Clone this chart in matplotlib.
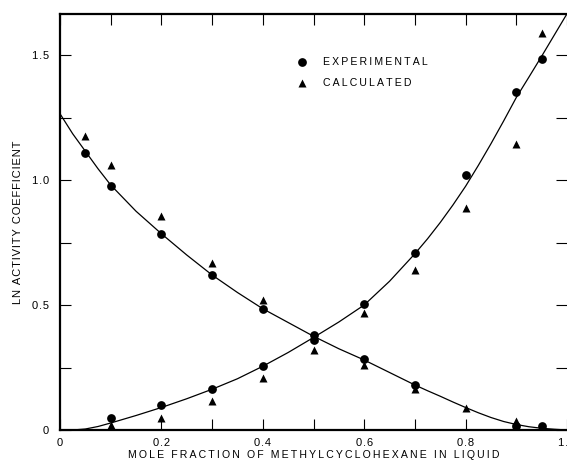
import numpy as np
import matplotlib
matplotlib.use("Agg")
import matplotlib.pyplot as plt
from matplotlib.ticker import MultipleLocator, FixedLocator

# component falling with x (experimental / calculated)
exp_down_x = [0.05, 0.1, 0.2, 0.3, 0.4, 0.5, 0.6, 0.7, 0.9, 0.95]
exp_down_y = [1.11, 0.975, 0.785, 0.62, 0.485, 0.38, 0.285, 0.18, 0.016, 0.016]
calc_down_x = [0.05, 0.1, 0.2, 0.3, 0.4, 0.5, 0.6, 0.7, 0.8, 0.9]
calc_down_y = [1.175, 1.06, 0.855, 0.67, 0.52, 0.37, 0.26, 0.165, 0.088, 0.036]

# methylcyclohexane (rising with x)
exp_up_x = [0.1, 0.2, 0.3, 0.4, 0.5, 0.6, 0.7, 0.8, 0.9, 0.95]
exp_up_y = [0.048, 0.10, 0.163, 0.256, 0.36, 0.504, 0.708, 1.02, 1.352, 1.484]
calc_up_x = [0.1, 0.2, 0.3, 0.4, 0.5, 0.6, 0.7, 0.8, 0.9, 0.95]
calc_up_y = [0.02, 0.048, 0.116, 0.208, 0.32, 0.468, 0.64, 0.888, 1.144, 1.588]

# smoothed curves
curve_x = [0.0, 0.025, 0.05, 0.075, 0.1, 0.15, 0.2, 0.25, 0.3, 0.35, 0.4, 0.45, 0.5,
           0.55, 0.6, 0.65, 0.7, 0.725, 0.75, 0.775, 0.8, 0.825, 0.85, 0.875, 0.9,
           0.925, 0.95, 0.975, 1.0]
curve_down = [1.265, 1.185, 1.115, 1.045, 0.98, 0.875, 0.785, 0.70, 0.62, 0.55, 0.485,
              0.43, 0.375, 0.325, 0.28, 0.23, 0.18, 0.157, 0.135, 0.112, 0.09, 0.069,
              0.05, 0.034, 0.022, 0.013, 0.007, 0.003, 0.0]
curve_up = [0.0, 0.0, 0.004, 0.014, 0.028, 0.058, 0.09, 0.125, 0.163, 0.205, 0.255,
            0.31, 0.37, 0.432, 0.50, 0.595, 0.705, 0.765, 0.83, 0.9, 0.975, 1.058,
            1.145, 1.236, 1.33, 1.412, 1.495, 1.58, 1.665]

x_labels = ["0", "0.2", "0.4", "0.6", "0.8", "1.0"]
y_labels = ["0", "0.5", "1.0", "1.5"]

FONT = ["Liberation Sans", "DejaVu Sans"]


def spaced(s, sep="\u200a"):
    return sep.join(s)


plt.rcParams["font.family"] = FONT

fig = plt.figure(figsize=(5.67, 4.62), dpi=100)
ax = fig.add_axes([60 / 567, 32 / 462, 507 / 567, 416 / 462])

ax.plot(curve_x, curve_down, color="black", lw=0.9)
ax.plot(curve_x, curve_up, color="black", lw=0.9)

ms = 6.3
ax.plot(exp_down_x, exp_down_y, "o", color="black", ms=ms, mec="none")
ax.plot(exp_up_x, exp_up_y, "o", color="black", ms=ms, mec="none")
ax.plot(calc_down_x, calc_down_y, "^", color="black", ms=ms, mec="none")
ax.plot(calc_up_x, calc_up_y, "^", color="black", ms=ms, mec="none")

ax.set_xlim(0, 1.0)
ax.set_ylim(0, 1.664)

for s in ["left", "top", "bottom"]:
    ax.spines[s].set_linewidth(1.6)
ax.spines["right"].set_visible(False)

ax.xaxis.set_major_locator(FixedLocator([0, 0.2, 0.4, 0.6, 0.8, 1.0]))
ax.xaxis.set_minor_locator(MultipleLocator(0.1))
ax.yaxis.set_major_locator(FixedLocator([0, 0.5, 1.0, 1.5]))
ax.yaxis.set_minor_locator(MultipleLocator(0.25))
ax.set_xticklabels([spaced(t) for t in x_labels], fontsize=8)
ax.set_yticklabels([spaced(t) for t in y_labels], fontsize=8)
ax.tick_params(which="both", direction="in", top=True, right=True, width=0.8)
ax.tick_params(axis="x", which="both", length=8, pad=6)
ax.tick_params(axis="y", which="both", length=8, pad=8)

ax.set_xlabel(spaced("MOLE FRACTION OF METHYLCYCLOHEXANE IN LIQUID", "\u2009"),
              fontsize=7.6, labelpad=1)
ax.set_ylabel(spaced("LN ACTIVITY COEFFICIENT"), fontsize=8, labelpad=6)

# legend drawn as in the original figure
ax.plot([0.478], [1.472], "o", color="black", ms=ms, mec="none")
ax.plot([0.478], [1.388], "^", color="black", ms=ms, mec="none")
ax.text(0.518, 1.472, spaced("EXPERIMENTAL", "\u2009"), fontsize=7.6, va="center")
ax.text(0.518, 1.388, spaced("CALCULATED", "\u2009"), fontsize=7.6, va="center")

fig.savefig("out.png", dpi=100)
